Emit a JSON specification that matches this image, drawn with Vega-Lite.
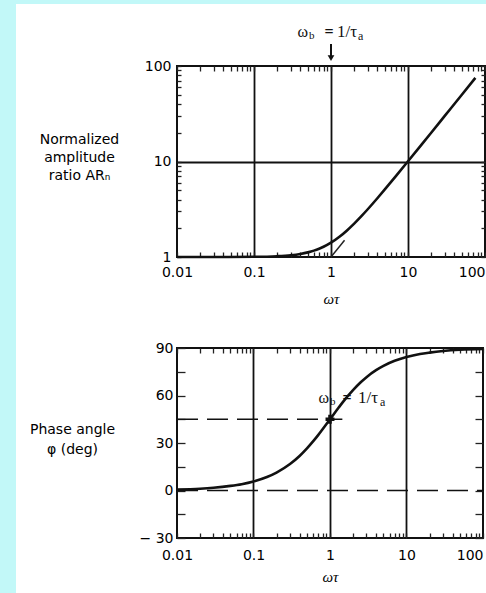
{
  "$schema": "https://vega.github.io/schema/vega-lite/v6.json",
  "padding": 0,
  "background": "white",
  "config": {
    "view": {"stroke": null},
    "axis": {
      "labelFont": "DejaVu Sans", "labelFontSize": 14, "labelColor": "#000",
      "tickColor": "#222", "tickWidth": 1.3, "domain": false,
      "gridColor": "#111", "gridWidth": 1.8, "labelOverlap": false, "labelFlush": false,
      "titleFont": "DejaVu Sans", "titleFontWeight": "normal", "titleFontSize": 14, "titleColor": "#000"
    }
  },
  "datasets": {
    "ar": [
      {"w": 0.01, "ar": 1.0}, {"w": 0.03, "ar": 1.0}, {"w": 0.1, "ar": 1.005}, {"w": 0.2, "ar": 1.02},
      {"w": 0.3, "ar": 1.044}, {"w": 0.4, "ar": 1.077}, {"w": 0.5, "ar": 1.118}, {"w": 0.6, "ar": 1.166},
      {"w": 0.7, "ar": 1.221}, {"w": 0.8, "ar": 1.281}, {"w": 1, "ar": 1.414}, {"w": 1.3, "ar": 1.64},
      {"w": 1.6, "ar": 1.887}, {"w": 2, "ar": 2.236}, {"w": 2.5, "ar": 2.693}, {"w": 3, "ar": 3.162},
      {"w": 4, "ar": 4.123}, {"w": 5, "ar": 5.099}, {"w": 7, "ar": 7.071}, {"w": 10, "ar": 10.05},
      {"w": 15, "ar": 15.03}, {"w": 20, "ar": 20.02}, {"w": 30, "ar": 30.02}, {"w": 50, "ar": 50.01},
      {"w": 75, "ar": 75.0}
    ],
    "phase": [
      {"w": 0.01, "phi": 0.6}, {"w": 0.02, "phi": 1.1}, {"w": 0.03, "phi": 1.7}, {"w": 0.05, "phi": 2.9},
      {"w": 0.07, "phi": 4.0}, {"w": 0.1, "phi": 5.7}, {"w": 0.15, "phi": 8.5}, {"w": 0.2, "phi": 11.3},
      {"w": 0.3, "phi": 16.7}, {"w": 0.4, "phi": 21.8}, {"w": 0.5, "phi": 26.6}, {"w": 0.6, "phi": 31.0},
      {"w": 0.7, "phi": 35.0}, {"w": 0.8, "phi": 38.7}, {"w": 1, "phi": 45}, {"w": 1.3, "phi": 52.4},
      {"w": 1.6, "phi": 58.0}, {"w": 2, "phi": 63.4}, {"w": 2.5, "phi": 68.2}, {"w": 3, "phi": 71.6},
      {"w": 4, "phi": 76.0}, {"w": 5, "phi": 78.7}, {"w": 7, "phi": 81.9}, {"w": 10, "phi": 84.3},
      {"w": 15, "phi": 86.2}, {"w": 20, "phi": 87.1}, {"w": 30, "phi": 88.1}, {"w": 50, "phi": 88.9},
      {"w": 100, "phi": 89.4}
    ],
    "asym": [{"w": 1, "ar": 1}, {"w": 1.5, "ar": 1.5}],
    "dash": [{"w": 0.01, "w2": 100, "phi": 0}, {"w": 0.01, "w2": 1.45, "phi": 45}]
  },
  "vconcat": [
    {
      "width": 486, "height": 4,
      "view": {"fill": "#c2f8f8", "stroke": null},
      "data": {"values": []},
      "mark": "rect",
      "encoding": {}
    },
    {
      "hconcat": [
        {
          "width": 16, "height": 589,
          "view": {"fill": "#c2f8f8", "stroke": null},
          "data": {"values": []},
          "mark": "rect",
          "encoding": {}
        },
        {
          "vconcat": [
            {
              "width": 308, "height": 1,
              "data": {"values": []},
              "mark": "rect",
              "encoding": {}
            },
            {
              "vconcat": [
                {
                  "width": 308, "height": 191,
                  "view": {"stroke": "#111", "strokeWidth": 2},
                  "resolve": {"axis": {"x": "independent", "y": "independent"}},
                  "layer": [
                    {
                      "data": {"name": "ar"},
                      "mark": {"type": "line", "color": "#111", "strokeWidth": 2.6, "interpolate": "monotone"},
                      "encoding": {
                        "x": {"field": "w", "type": "quantitative",
                          "scale": {"type": "log", "domain": [0.01, 100], "nice": false},
                          "axis": {
                            "orient": "bottom",
                            "values": [0.01,0.02,0.03,0.04,0.05,0.06,0.07,0.08,0.09,0.1,0.2,0.3,0.4,0.5,0.6,0.7,0.8,0.9,1,2,3,4,5,6,7,8,9,10,20,30,40,50,60,70,80,90,100],
                            "labelExpr": "datum.value == 0.01 ? '0.01' : datum.value == 0.1 ? '0.1' : datum.value == 1 ? '1' : datum.value == 10 ? '10' : datum.value == 100 ? '100' : ''",
                            "labelAlign": {"condition": {"test": "datum.value == 100", "value": "right"}, "value": "center"},
                            "labelPadding": 13,
                            "tickSize": -5,
                            "grid": true,
                            "gridOpacity": {"condition": {"test": "datum.value == 0.1 || datum.value == 1 || datum.value == 10", "value": 1}, "value": 0},
                            "title": "ωτ",
                            "titleFont": "Liberation Serif", "titleFontStyle": "italic", "titleFontSize": 15,
                            "titleY": 41, "titleBaseline": "middle"
                          }
                        },
                        "y": {"field": "ar", "type": "quantitative",
                          "scale": {"type": "log", "domain": [1, 100], "nice": false},
                          "axis": {
                            "orient": "left",
                            "values": [1,2,3,4,5,6,7,8,9,10,20,30,40,50,60,70,80,90,100],
                            "labelExpr": "datum.value == 1 ? '1' : datum.value == 10 ? '10' : datum.value == 100 ? '100' : ''",
                            "labelPadding": 10,
                            "tickSize": -4,
                            "grid": true,
                            "gridOpacity": {"condition": {"test": "datum.value == 10", "value": 1}, "value": 0},
                            "title": ["Normalized", "amplitude", "ratio ARₙ"],
                            "titleAngle": 0, "titleAlign": "center", "titleBaseline": "middle",
                            "titleX": -98, "titleY": 73, "titleLineHeight": 18
                          }
                        }
                      }
                    },
                    {
                      "data": {"name": "asym"},
                      "mark": {"type": "line", "color": "#222", "strokeWidth": 1.5},
                      "encoding": {
                        "x": {"field": "w", "type": "quantitative",
                          "axis": {"orient": "top", "values": [0.01,0.02,0.03,0.04,0.05,0.06,0.07,0.08,0.09,0.1,0.2,0.3,0.4,0.5,0.6,0.7,0.8,0.9,1,2,3,4,5,6,7,8,9,10,20,30,40,50,60,70,80,90,100], "labels": false, "tickSize": -5, "grid": false, "title": null}},
                        "y": {"field": "ar", "type": "quantitative",
                          "axis": {"orient": "right", "values": [1,2,3,4,5,6,7,8,9,10,20,30,40,50,60,70,80,90,100], "labels": false, "tickSize": -4, "grid": false, "title": null}}
                      }
                    },
                    {
                      "data": {"values": [{"w": 1, "ar": 170, "ar2": 125}]},
                      "mark": {"type": "rule", "color": "#111", "strokeWidth": 2},
                      "encoding": {
                        "x": {"field": "w", "type": "quantitative", "axis": null},
                        "y": {"field": "ar", "type": "quantitative", "axis": null},
                        "y2": {"field": "ar2"}
                      }
                    },
                    {
                      "data": {"values": [{"w": 1, "ar": 121}]},
                      "mark": {"type": "point", "shape": "triangle-down", "filled": true, "color": "#111", "size": 45, "opacity": 1},
                      "encoding": {
                        "x": {"field": "w", "type": "quantitative", "axis": null},
                        "y": {"field": "ar", "type": "quantitative", "axis": null}
                      }
                    },
                    {
                      "data": {"values": [{"w": 1, "ar": 227, "t": "ω"}]},
                      "mark": {"type": "text", "align": "right", "baseline": "middle", "dx": -23, "font": "Liberation Serif", "fontSize": 16, "color": "#111"},
                      "encoding": {
                        "x": {"field": "w", "type": "quantitative", "axis": null},
                        "y": {"field": "ar", "type": "quantitative", "axis": null},
                        "text": {"field": "t"}
                      }
                    },
                    {
                      "data": {"values": [{"w": 1, "ar": 227, "t": "b"}]},
                      "mark": {"type": "text", "align": "left", "baseline": "middle", "dx": -22, "dy": 4, "font": "Liberation Serif", "fontSize": 11, "color": "#111"},
                      "encoding": {
                        "x": {"field": "w", "type": "quantitative", "axis": null},
                        "y": {"field": "ar", "type": "quantitative", "axis": null},
                        "text": {"field": "t"}
                      }
                    },
                    {
                      "data": {"values": [{"w": 1, "ar": 227, "t": "="}]},
                      "mark": {"type": "text", "align": "center", "baseline": "middle", "dx": -2, "font": "Liberation Serif", "fontSize": 16, "fontWeight": "bold", "color": "#111"},
                      "encoding": {
                        "x": {"field": "w", "type": "quantitative", "axis": null},
                        "y": {"field": "ar", "type": "quantitative", "axis": null},
                        "text": {"field": "t"}
                      }
                    },
                    {
                      "data": {"values": [{"w": 1, "ar": 227, "t": "1/τ"}]},
                      "mark": {"type": "text", "align": "left", "baseline": "middle", "dx": 6, "font": "Liberation Serif", "fontSize": 17, "color": "#111"},
                      "encoding": {
                        "x": {"field": "w", "type": "quantitative", "axis": null},
                        "y": {"field": "ar", "type": "quantitative", "axis": null},
                        "text": {"field": "t"}
                      }
                    },
                    {
                      "data": {"values": [{"w": 1, "ar": 227, "t": "a"}]},
                      "mark": {"type": "text", "align": "left", "baseline": "middle", "dx": 27, "dy": 4, "font": "Liberation Serif", "fontSize": 12, "color": "#111"},
                      "encoding": {
                        "x": {"field": "w", "type": "quantitative", "axis": null},
                        "y": {"field": "ar", "type": "quantitative", "axis": null},
                        "text": {"field": "t"}
                      }
                    }
                  ]
                },
                {
                  "width": 306, "height": 190,
                  "view": {"stroke": "#111", "strokeWidth": 2},
                  "resolve": {"axis": {"x": "independent", "y": "independent"}},
                  "layer": [
                    {
                      "data": {"name": "phase"},
                      "mark": {"type": "line", "color": "#111", "strokeWidth": 2.6, "interpolate": "monotone"},
                      "encoding": {
                        "x": {"field": "w", "type": "quantitative",
                          "scale": {"type": "log", "domain": [0.01, 100], "nice": false},
                          "axis": {
                            "orient": "bottom",
                            "values": [0.01,0.02,0.03,0.04,0.05,0.06,0.07,0.08,0.09,0.1,0.2,0.3,0.4,0.5,0.6,0.7,0.8,0.9,1,2,3,4,5,6,7,8,9,10,20,30,40,50,60,70,80,90,100],
                            "labelExpr": "datum.value == 0.01 ? '0.01' : datum.value == 0.1 ? '0.1' : datum.value == 1 ? '1' : datum.value == 10 ? '10' : datum.value == 100 ? '100' : ''",
                            "labelAlign": {"condition": {"test": "datum.value == 100", "value": "right"}, "value": "center"},
                            "labelPadding": 15,
                            "tickSize": -5,
                            "grid": true,
                            "gridOpacity": {"condition": {"test": "datum.value == 0.1 || datum.value == 1 || datum.value == 10", "value": 1}, "value": 0},
                            "title": "ωτ",
                            "titleFont": "Liberation Serif", "titleFontStyle": "italic", "titleFontSize": 15,
                            "titleY": 38, "titleBaseline": "middle"
                          }
                        },
                        "y": {"field": "phi", "type": "quantitative",
                          "scale": {"domain": [-30, 90], "nice": false, "zero": false},
                          "axis": {
                            "orient": "left",
                            "values": [-30,-15,0,15,30,45,60,75,90],
                            "labelExpr": "datum.value == -30 ? '− 30' : datum.value % 30 == 0 ? datum.label : ''",
                            "labelPadding": 12,
                            "tickSize": -8,
                            "grid": false,
                            "title": ["Phase angle", "φ (deg)"],
                            "titleAngle": 0, "titleAlign": "center", "titleBaseline": "middle",
                            "titleX": -105, "titleY": 81, "titleLineHeight": 20
                          }
                        }
                      }
                    },
                    {
                      "data": {"name": "dash"},
                      "mark": {"type": "rule", "color": "#111", "strokeWidth": 1.6, "strokeDash": [21, 9]},
                      "encoding": {
                        "x": {"field": "w", "type": "quantitative",
                          "axis": {"orient": "top", "values": [0.01,0.02,0.03,0.04,0.05,0.06,0.07,0.08,0.09,0.1,0.2,0.3,0.4,0.5,0.6,0.7,0.8,0.9,1,2,3,4,5,6,7,8,9,10,20,30,40,50,60,70,80,90,100], "labels": false, "tickSize": -5, "grid": false, "title": null}},
                        "x2": {"field": "w2"},
                        "y": {"field": "phi", "type": "quantitative",
                          "axis": {"orient": "right", "values": [-30,-15,0,15,30,45,60,75,90], "labels": false, "tickSize": -8, "grid": false, "title": null}}
                      }
                    },
                    {
                      "data": {"values": [{"w": 1, "phi": 45}]},
                      "mark": {"type": "point", "shape": "cross", "filled": true, "color": "#111", "size": 80, "opacity": 1},
                      "encoding": {
                        "x": {"field": "w", "type": "quantitative", "axis": null},
                        "y": {"field": "phi", "type": "quantitative", "axis": null}
                      }
                    },
                    {
                      "data": {"values": [{"w": 1, "phi": 58.4, "t": "ω"}]},
                      "mark": {"type": "text", "align": "right", "baseline": "middle", "dx": -1, "font": "Liberation Serif", "fontSize": 16, "color": "#111"},
                      "encoding": {
                        "x": {"field": "w", "type": "quantitative", "axis": null},
                        "y": {"field": "phi", "type": "quantitative", "axis": null},
                        "text": {"field": "t"}
                      }
                    },
                    {
                      "data": {"values": [{"w": 1, "phi": 58.4, "t": "b"}]},
                      "mark": {"type": "text", "align": "left", "baseline": "middle", "dx": 0, "dy": 4, "font": "Liberation Serif", "fontSize": 11, "color": "#111"},
                      "encoding": {
                        "x": {"field": "w", "type": "quantitative", "axis": null},
                        "y": {"field": "phi", "type": "quantitative", "axis": null},
                        "text": {"field": "t"}
                      }
                    },
                    {
                      "data": {"values": [{"w": 1, "phi": 58.4, "t": "="}]},
                      "mark": {"type": "text", "align": "center", "baseline": "middle", "dx": 17, "font": "Liberation Serif", "fontSize": 16, "fontWeight": "bold", "color": "#111"},
                      "encoding": {
                        "x": {"field": "w", "type": "quantitative", "axis": null},
                        "y": {"field": "phi", "type": "quantitative", "axis": null},
                        "text": {"field": "t"}
                      }
                    },
                    {
                      "data": {"values": [{"w": 1, "phi": 58.4, "t": "1/τ"}]},
                      "mark": {"type": "text", "align": "left", "baseline": "middle", "dx": 28, "font": "Liberation Serif", "fontSize": 17, "color": "#111"},
                      "encoding": {
                        "x": {"field": "w", "type": "quantitative", "axis": null},
                        "y": {"field": "phi", "type": "quantitative", "axis": null},
                        "text": {"field": "t"}
                      }
                    },
                    {
                      "data": {"values": [{"w": 1, "phi": 58.4, "t": "a"}]},
                      "mark": {"type": "text", "align": "left", "baseline": "middle", "dx": 50, "dy": 4, "font": "Liberation Serif", "fontSize": 12, "color": "#111"},
                      "encoding": {
                        "x": {"field": "w", "type": "quantitative", "axis": null},
                        "y": {"field": "phi", "type": "quantitative", "axis": null},
                        "text": {"field": "t"}
                      }
                    }
                  ]
                }
              ],
              "spacing": 33
            }
          ],
          "spacing": 16
        }
      ],
      "spacing": 12
    }
  ],
  "spacing": 0
}
